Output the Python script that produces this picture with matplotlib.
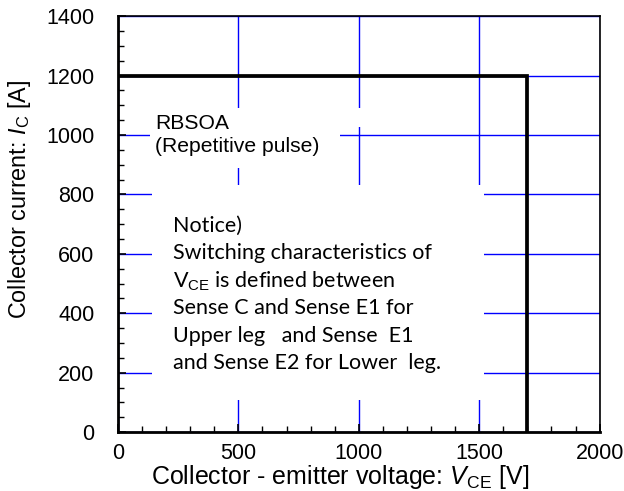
import matplotlib
matplotlib.use("Agg")
import matplotlib.pyplot as plt
from matplotlib.patches import Rectangle
from matplotlib.ticker import MultipleLocator

plt.rcParams['font.family'] = ['Liberation Sans', 'DejaVu Sans']
plt.rcParams['mathtext.fontset'] = 'custom'
plt.rcParams['mathtext.rm'] = 'Liberation Sans'
plt.rcParams['mathtext.it'] = 'Liberation Sans:italic'

# RBSOA boundary
vce = [0, 1700, 1700]
ic = [1200, 1200, 0]

xticks = [0, 500, 1000, 1500, 2000]
yticks = [0, 200, 400, 600, 800, 1000, 1200, 1400]

notice_lines = [
    "Notice)",
    "Switching characteristics of",
    r"V$_\mathrm{CE}$ is defined between",
    "Sense C and Sense E1 for",
    "Upper leg   and Sense  E1",
    "and Sense E2 for Lower  leg.",
]

fig = plt.figure(figsize=(6.24, 4.91), dpi=100)
ax = fig.add_axes([0.189, 0.120, 0.772, 0.847])

ax.set_xlim(0, 2000)
ax.set_ylim(0, 1400)
ax.set_xticks(xticks)
ax.set_yticks(yticks)
ax.xaxis.set_minor_locator(MultipleLocator(100))
ax.yaxis.set_minor_locator(MultipleLocator(50))
ax.tick_params(which='both', direction='in', top=False, right=False,
               labelsize=15.5, color='black')
ax.tick_params(axis='x', pad=8)
ax.tick_params(axis='y', pad=17)
ax.tick_params(which='major', length=6, width=1.2)
ax.tick_params(which='minor', length=4, width=1)

ax.grid(True, which='major', color='blue', linewidth=1, zorder=0)
ax.set_axisbelow(True)

for s in ax.spines.values():
    s.set_linewidth(1.2)
ax.spines['left'].set_linewidth(2)
ax.spines['bottom'].set_linewidth(2)

# white areas behind the notes hide the grid
for (x0, y0, w, h) in [(0.066, 0.635, 0.395, 0.144),
                       (0.066, 0.733, 0.45, 0.046),
                       (0.071, 0.077, 0.688, 0.517)]:
    ax.add_patch(Rectangle((x0, y0), w, h, transform=ax.transAxes,
                           facecolor='white', edgecolor='none', zorder=1))

ax.plot(vce, ic, color='black', linewidth=2.7, zorder=3,
        solid_joinstyle='miter')

ax.text(0.077, 0.765, "RBSOA\n(Repetitive pulse)", transform=ax.transAxes,
        fontsize=15.2, va='top', ha='left', linespacing=1.25, zorder=4)

for i, line in enumerate(notice_lines):
    ax.text(0.114, 0.496 - i * 0.066, line, transform=ax.transAxes,
            fontsize=15.5, family=['Lato', 'DejaVu Sans'], va='center',
            ha='left', zorder=4)

ax.set_xlabel(r"Collector - emitter voltage: $\it{V}$$_\mathrm{CE}$ [V]",
              fontsize=18, va='center', ha='center')
ax.xaxis.set_label_coords(0.462, -0.108)
ax.set_ylabel(r"Collector current: $\it{I}$$_\mathrm{C}$ [A]",
              fontsize=16.8, va='center', ha='center')
ax.yaxis.set_label_coords(-0.205, 0.56)

fig.savefig("out.png", dpi=100)
